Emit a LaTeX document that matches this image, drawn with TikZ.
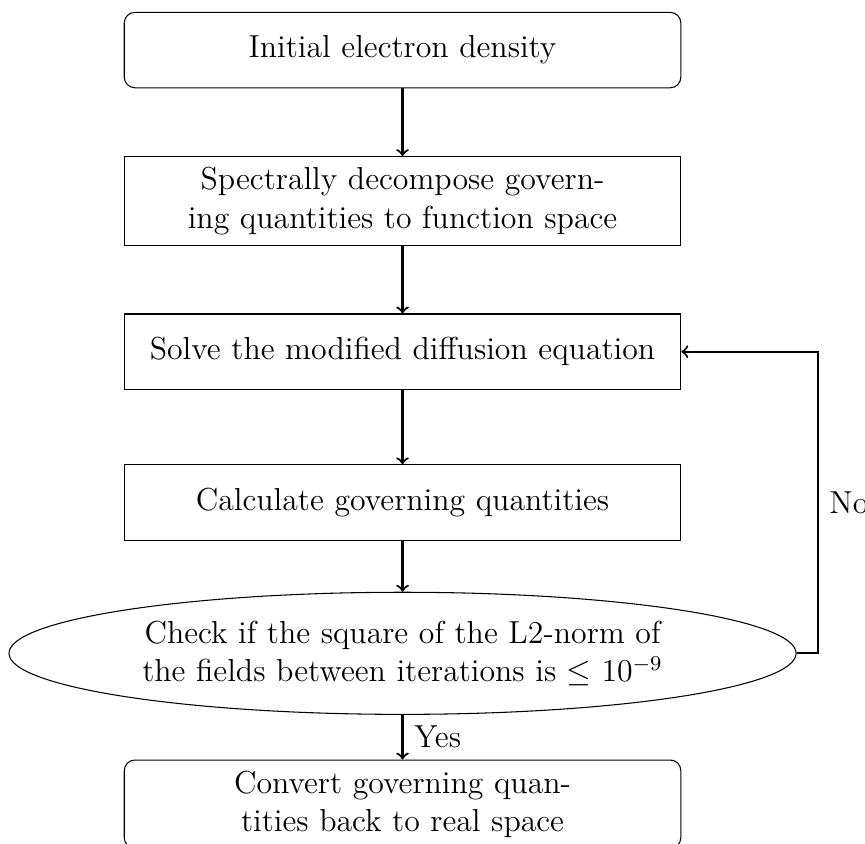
\documentclass[12pt,tikz,border=0pt]{standalone}
\usetikzlibrary{shapes.geometric,positioning}

\tikzset{
  block/.style={rectangle, draw, text width=7.1cm, align=center, minimum height=1cm},
  terminal/.style={block, rounded corners},
  decision/.style={ellipse, draw, text width=7.1cm, align=center},
  line/.style={draw, thick, ->},
}

\begin{document}
\begin{tikzpicture}[node distance=2cm, on grid]
  \useasboundingbox (-151.9pt, 18.9pt) rectangle (174.5pt, -299.2pt);

  \node[terminal] (init) at (0, 0) {Initial electron density};
  \node[block, below=of init] (decompose) {Spectrally decompose governing quantities to function space};
  \node[block, below=of decompose] (solve) {Solve the modified diffusion equation};
  \node[block, below=of solve] (calc) {Calculate governing quantities};
  \node[decision, below=of calc] (check) {Check if the square of the L2-norm of the fields between iterations is $\leq 10^{-9}$};
  \node[terminal, below=of check] (convert) {Convert governing quantities back to real space};

  \coordinate[right=0.28cm of check.east] (loop);

  \draw[line] (init) -- (decompose);
  \draw[line] (decompose) -- (solve);
  \draw[line] (solve) -- (calc);
  \draw[line] (calc) -- (check);
  \draw[line] (check) -- node[right] {Yes} (convert);
  \draw[line] (check.east) -- (loop) |- node[near start, right] {No} (solve);

\end{tikzpicture}
\end{document}
